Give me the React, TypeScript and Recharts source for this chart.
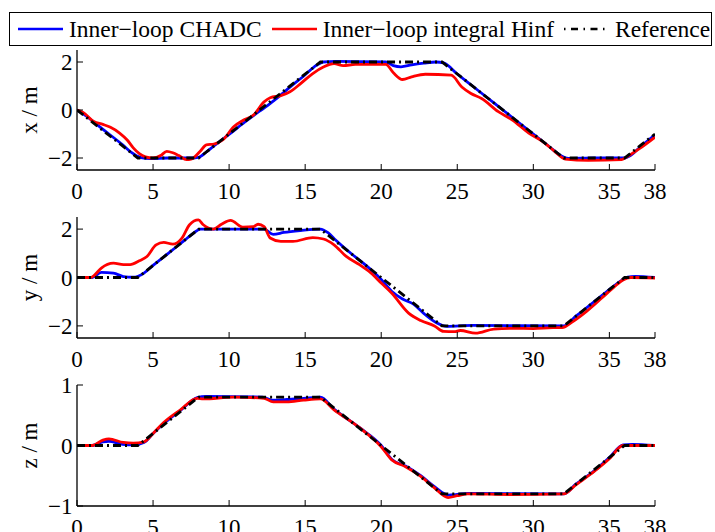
import { LineChart, Line, XAxis, YAxis, Legend, Label } from "recharts";

type Pt = [number, number];

const T_TICKS = [0, 5, 10, 15, 20, 25, 30, 35, 38];
const POS_TICKS = [-2, 0, 2];
const Z_TICKS = [-1, 0, 1];

const SERIES_NAMES = ["Inner\u2212loop CHADC", "Inner\u2212loop integral Hinf", "Reference"];
const SERIES_COLORS = ["#0000ff", "#ff0000", "#000000"];

// reference waypoints (piecewise linear)
const X_REF: Pt[] = [[0, 0], [4, -2], [8, -2], [16, 2], [24, 2], [32, -2], [36, -2], [38, -1]];
const Y_REF: Pt[] = [[0, 0], [4, 0], [8, 2], [16, 2], [24, -2], [32, -2], [36, 0], [38, 0]];
const Z_REF: Pt[] = [[0, 0], [4, 0], [8, 0.8], [16, 0.8], [24, -0.8], [32, -0.8], [36, 0], [38, 0]];

// x position
const X_CHADC: Pt[] = [
  [0, 0], [0.5, -0.2], [1, -0.45], [2, -0.95], [3, -1.45], [3.6, -1.78], [4.2, -1.98], [4.8, -2.02],
  [6, -2.0], [7.5, -2.0], [8, -1.97], [8.5, -1.75], [9, -1.5], [10, -1.02], [11, -0.52], [12, -0.05],
  [12.5, 0.17], [13, 0.42], [14, 0.95], [15, 1.47], [15.6, 1.8], [16.2, 2.0], [17, 2.03], [20.3, 2.0],
  [20.8, 1.85], [21.3, 1.8], [22, 1.88], [22.8, 1.95], [23.6, 2.0], [24.1, 1.96], [25, 1.5], [26, 1.0],
  [27, 0.5], [28, 0.0], [29, -0.5], [30, -1.0], [31, -1.5], [31.8, -1.9], [32.3, -2.02], [34, -2.0],
  [36, -2.0], [36.3, -1.93], [37, -1.55], [38, -1.03],
];
const X_HINF: Pt[] = [
  [0, 0], [0.4, -0.1], [1.1, -0.48], [1.7, -0.6], [2.2, -0.72], [2.8, -0.96], [3.3, -1.25], [3.7, -1.58],
  [4.1, -1.82], [4.5, -1.95], [5, -2.0], [5.5, -1.9], [5.9, -1.72], [6.3, -1.78], [6.7, -1.9], [7.2, -2.07],
  [7.5, -2.05], [8.1, -1.72], [8.5, -1.45], [9, -1.42], [9.6, -1.24], [10.3, -0.7], [10.9, -0.44],
  [11.6, -0.21], [12.3, 0.34], [12.7, 0.51], [13.4, 0.6], [14, 0.76], [14.7, 1.1], [15.5, 1.52],
  [16.2, 1.79], [16.9, 1.93], [17.5, 1.85], [18.3, 1.9], [20.3, 1.9], [20.8, 1.55], [21.4, 1.27],
  [22, 1.38], [22.9, 1.49], [24.6, 1.45], [25.3, 0.96], [25.9, 0.69], [26.6, 0.48], [27.7, -0.07],
  [28.6, -0.41], [29.7, -0.96], [30.6, -1.31], [31.4, -1.72], [32.1, -2.05], [33.6, -2.1], [35.8, -2.07],
  [36.1, -1.97], [37, -1.6], [38, -1.13],
];

// y position
const Y_CHADC: Pt[] = [
  [0, 0], [1, 0], [1.6, 0.21], [2.4, 0.18], [3.05, 0.04], [3.7, 0.01], [4.4, 0.18], [5, 0.5], [6, 1.0],
  [7, 1.5], [7.7, 1.85], [8.1, 2.0], [12.3, 2.0], [12.9, 1.78], [13.6, 1.86], [14.7, 1.94], [16, 2.0],
  [16.5, 1.85], [17, 1.55], [18, 1.0], [19, 0.5], [20, -0.08], [20.7, -0.58], [21.4, -0.89], [22.1, -1.09],
  [22.9, -1.54], [23.6, -1.86], [24.3, -2.02], [26, -1.98], [32, -2.0], [32.8, -1.6], [33.5, -1.25],
  [34.5, -0.75], [35.5, -0.25], [36.2, 0.02], [36.7, 0.05], [38, 0],
];
const Y_HINF: Pt[] = [
  [0, 0], [0.9, 0], [1.1, 0.07], [1.6, 0.39], [2.4, 0.59], [3.05, 0.53], [3.5, 0.53], [4.1, 0.69],
  [4.6, 0.87], [5.2, 1.35], [5.7, 1.45], [6.3, 1.38], [6.9, 1.63], [7.4, 2.18], [7.98, 2.38], [8.3, 2.18],
  [8.97, 2.0], [9.5, 2.2], [10.1, 2.36], [10.9, 2.08], [11.6, 2.1], [11.9, 2.2], [12.3, 2.1], [12.7, 1.63],
  [13.4, 1.49], [14.2, 1.49], [15.5, 1.65], [16.2, 1.59], [16.9, 1.35], [17.7, 0.87], [18.6, 0.52],
  [19.3, 0.2], [20, -0.23], [20.7, -0.65], [21.8, -1.47], [22.6, -1.78], [23.5, -2.0], [24.1, -2.23],
  [24.8, -2.24], [25.2, -2.19], [26.2, -2.3], [27.4, -2.13], [28.7, -2.1], [30, -2.11], [31.3, -2.07],
  [31.9, -2.07], [32.6, -1.82], [33.5, -1.4], [34.5, -0.85], [35.3, -0.4], [35.9, -0.1], [36.4, 0],
  [38, -0.02],
];

// z position
const Z_CHADC: Pt[] = [
  [0, 0], [1, 0], [1.7, 0.06], [2.1, 0.07], [3, 0.02], [3.7, 0.01], [4.4, 0.05], [5, 0.2], [5.7, 0.36],
  [6.8, 0.58], [7.9, 0.79], [8.5, 0.81], [12.2, 0.8], [12.8, 0.75], [13.8, 0.76], [14.9, 0.78], [16, 0.8],
  [16.9, 0.6], [18.6, 0.29], [20, 0.0], [20.7, -0.23], [21.6, -0.34], [22.6, -0.5], [23.5, -0.68],
  [24.4, -0.82], [25, -0.81], [25.7, -0.79], [32, -0.8], [32.8, -0.64], [34, -0.42], [35, -0.2],
  [35.9, 0.01], [36.5, 0.02], [38, 0],
];
const Z_HINF: Pt[] = [
  [0, 0], [1, 0], [1.7, 0.09], [2.1, 0.11], [3.05, 0.05], [3.7, 0.04], [4.4, 0.06], [5, 0.2], [5.7, 0.38],
  [6.8, 0.59], [7.9, 0.78], [8.3, 0.77], [10.3, 0.8], [12.3, 0.78], [12.9, 0.72], [13.8, 0.72],
  [14.9, 0.75], [16, 0.77], [16.9, 0.59], [18.6, 0.29], [20, -0.02], [20.7, -0.24], [21.6, -0.35],
  [22.6, -0.51], [23.5, -0.7], [24.4, -0.86], [25, -0.83], [25.7, -0.8], [28.5, -0.81], [32, -0.8],
  [32.8, -0.65], [34, -0.43], [35, -0.22], [35.9, 0], [38, 0],
];

const W = 715;
const H = 532;
const PLOT_RIGHT = 655;
const FONT = '"Liberation Serif", "Times New Roman", Times, serif';
const DASH_DOT = "8 4 2 4";
const LEGEND_DASH = "1.5 5.5 7 5.5";
const LINE_W = 2.8;

const rows = (pts: Pt[]) => pts.map(([t, v]) => ({ t, v }));
const fmt = (v: number) => (v < 0 ? `\u2212${-v}` : `${v}`);
const blank = () => "";

function AxisTitle({ viewBox, text }: { viewBox?: any; text: string }) {
  if (!viewBox) return null;
  const cx = 37;
  const cy = viewBox.y + viewBox.height / 2;
  return (
    <text
      x={cx}
      y={cy}
      transform={`rotate(-90, ${cx}, ${cy})`}
      textAnchor="middle"
      fontFamily={FONT}
      fontSize={23}
      fill="#000"
    >
      {text}
    </text>
  );
}

function LegendBox() {
  return (
    <div
      style={{
        boxSizing: "border-box",
        width: 703,
        height: 34,
        border: "1px solid #000",
        background: "#fff",
        display: "flex",
        alignItems: "center",
        paddingLeft: 8,
        fontFamily: FONT,
        fontSize: 23.5,
        whiteSpace: "nowrap",
        color: "#000",
      }}
    >
      {SERIES_NAMES.map((name, i) => (
        <span key={name} style={{ display: "flex", alignItems: "center", marginRight: 10 }}>
          <svg width={45} height={6} style={{ marginRight: 6 }}>
            <line
              x1={0}
              y1={3}
              x2={45}
              y2={3}
              stroke={SERIES_COLORS[i]}
              strokeWidth={2.5}
              strokeDasharray={i === 2 ? LEGEND_DASH : undefined}
            />
          </svg>
          <span>{name}</span>
        </span>
      ))}
    </div>
  );
}

type PanelProps = {
  top: number;
  bottom: number;
  domain: [number, number];
  ticks: number[];
  title: string;
  chadc: Pt[];
  hinf: Pt[];
  reference: Pt[];
  legend?: boolean;
};

function Panel({ top, bottom, domain, ticks, title, chadc, hinf, reference, legend }: PanelProps) {
  const tickFont = { fontSize: 23, fontFamily: FONT, fill: "#000" };
  const axisLine = { stroke: "#000", strokeWidth: 1.3 };
  const tickLine = { stroke: "#000", strokeWidth: 1 };
  return (
    <div style={{ position: "absolute", left: 0, top: 0 }}>
      <LineChart
        width={W}
        height={H}
        margin={{ top, right: W - PLOT_RIGHT, bottom: H - bottom - 20, left: 0 }}
      >
        <XAxis
          dataKey="t"
          type="number"
          domain={[0, 38]}
          ticks={T_TICKS}
          interval={0}
          height={20}
          tickSize={-6}
          tickMargin={18.7}
          tick={tickFont}
          axisLine={axisLine}
          tickLine={tickLine}
          allowDataOverflow
        />
        <XAxis
          xAxisId="top"
          orientation="top"
          type="number"
          domain={[0, 38]}
          ticks={T_TICKS}
          interval={0}
          height={0}
          tickSize={-6}
          tickFormatter={blank}
          axisLine={axisLine}
          tickLine={tickLine}
          allowDataOverflow
        />
        <YAxis
          type="number"
          domain={domain}
          ticks={ticks}
          interval={0}
          width={77}
          tickSize={-6}
          tickMargin={10.5}
          tick={tickFont}
          tickFormatter={fmt}
          axisLine={axisLine}
          tickLine={tickLine}
          allowDataOverflow
        >
          <Label content={(p: any) => <AxisTitle viewBox={p.viewBox} text={title} />} />
        </YAxis>
        <YAxis
          yAxisId="right"
          orientation="right"
          type="number"
          domain={domain}
          ticks={ticks}
          interval={0}
          width={0}
          tickSize={-6}
          tickFormatter={blank}
          axisLine={axisLine}
          tickLine={tickLine}
          allowDataOverflow
        />
        <Line
          data={rows(chadc)}
          dataKey="v"
          name={SERIES_NAMES[0]}
          type="monotone"
          stroke={SERIES_COLORS[0]}
          strokeWidth={LINE_W}
          dot={false}
          isAnimationActive={false}
        />
        <Line
          data={rows(hinf)}
          dataKey="v"
          name={SERIES_NAMES[1]}
          type="monotone"
          stroke={SERIES_COLORS[1]}
          strokeWidth={LINE_W}
          dot={false}
          isAnimationActive={false}
        />
        <Line
          data={rows(reference)}
          dataKey="v"
          name={SERIES_NAMES[2]}
          type="linear"
          stroke={SERIES_COLORS[2]}
          strokeWidth={LINE_W}
          strokeDasharray={DASH_DOT}
          dot={false}
          isAnimationActive={false}
        />
        {legend && (
          <Legend
            layout="horizontal"
            verticalAlign="middle"
            align="center"
            wrapperStyle={{ top: 12, left: 9, width: 703, height: 34 }}
            content={<LegendBox />}
          />
        )}
      </LineChart>
    </div>
  );
}

export default function App() {
  return (
    <div
      style={{
        position: "absolute",
        left: 0,
        top: 0,
        width: W,
        height: H,
        overflow: "hidden",
        background: "#fff",
      }}
    >
      <Panel top={217} bottom={338} domain={[-2.5, 2.5]} ticks={POS_TICKS} title="y / m" chadc={Y_CHADC} hinf={Y_HINF} reference={Y_REF} />
      <Panel top={385} bottom={506} domain={[-1, 1]} ticks={Z_TICKS} title="z / m" chadc={Z_CHADC} hinf={Z_HINF} reference={Z_REF} />
      <Panel top={50} bottom={170} domain={[-2.5, 2.5]} ticks={POS_TICKS} title="x / m" chadc={X_CHADC} hinf={X_HINF} reference={X_REF} legend />
    </div>
  );
}
